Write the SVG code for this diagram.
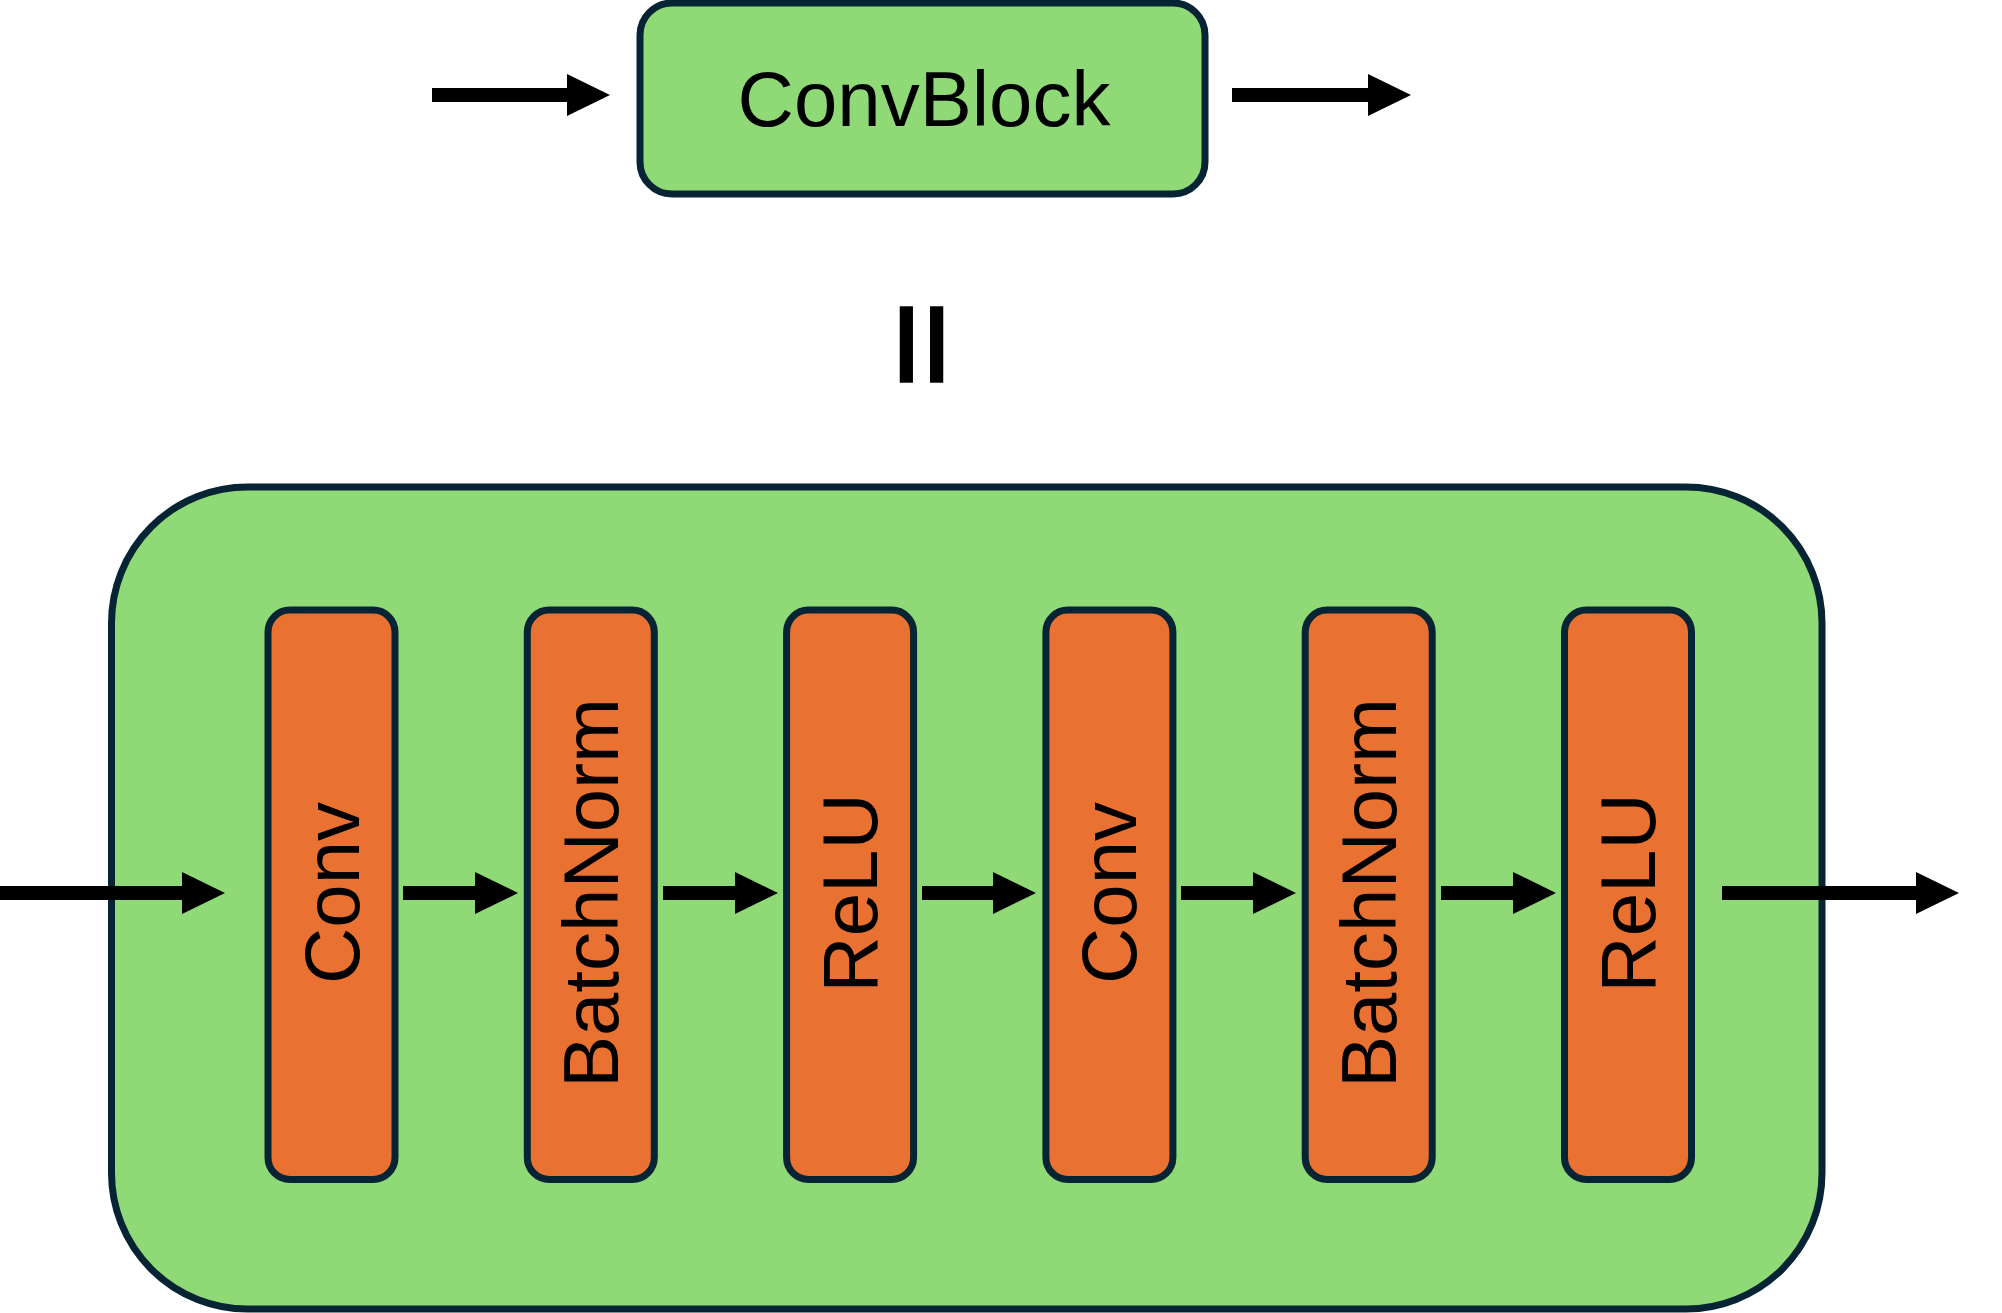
<svg xmlns="http://www.w3.org/2000/svg" width="2002" height="1313" viewBox="0 0 2002 1313">
  <style>
    .green { fill: #8FD977; stroke: #062433; stroke-width: 7; }
    .layer { fill: #E97132; stroke: #062433; stroke-width: 7; }
    .lbl { font-family: "Liberation Sans", Arial, sans-serif; font-size: 78px; fill: #000; text-anchor: middle; }
    .conn { stroke: #000; stroke-width: 14; fill: none; marker-end: url(#head); }
  </style>
  <defs>
    <marker id="head" markerUnits="userSpaceOnUse" viewBox="0 0 43 42" markerWidth="43" markerHeight="42" refX="1" refY="21" orient="auto">
      <path d="M0,0 L43,21 L0,42 Z" fill="#000"/>
    </marker>
  </defs>
  <rect width="2002" height="1313" fill="#fff"/>

  <g id="convblock">
    <rect class="green" x="640" y="3" width="565" height="191" rx="32" ry="32" stroke-width="6.5"/>
    <text class="lbl" x="924" y="126">ConvBlock</text>
  </g>

  <g id="equals">
    <text transform="translate(924,344.5) rotate(90) scale(1.22,1)" x="0" y="42" font-family="Liberation Sans, Arial, sans-serif" font-size="120" text-anchor="middle" fill="#000" stroke="#000" stroke-width="4.5">=</text>
  </g>

  <g id="container">
    <rect class="green" x="111.5" y="487" width="1710.5" height="822" rx="136" ry="136"/>
  </g>

  <g id="conv1">
    <rect class="layer" x="268" y="610" width="127" height="569.5" rx="22" ry="22"/>
    <text class="lbl" transform="translate(358.5,893) rotate(-90)">Conv</text>
  </g>
  <g id="batchnorm1">
    <rect class="layer" x="527.3" y="610" width="127" height="569.5" rx="22" ry="22"/>
    <text class="lbl" transform="translate(618,893) rotate(-90)">BatchNorm</text>
  </g>
  <g id="relu1">
    <rect class="layer" x="786.6" y="610" width="127" height="569.5" rx="22" ry="22"/>
    <text class="lbl" transform="translate(877,893) rotate(-90)">ReLU</text>
  </g>
  <g id="conv2">
    <rect class="layer" x="1045.9" y="610" width="127" height="569.5" rx="22" ry="22"/>
    <text class="lbl" transform="translate(1136,893) rotate(-90)">Conv</text>
  </g>
  <g id="batchnorm2">
    <rect class="layer" x="1305.2" y="610" width="127" height="569.5" rx="22" ry="22"/>
    <text class="lbl" transform="translate(1395.7,893) rotate(-90)">BatchNorm</text>
  </g>
  <g id="relu2">
    <rect class="layer" x="1564.5" y="610" width="127" height="569.5" rx="22" ry="22"/>
    <text class="lbl" transform="translate(1655,893) rotate(-90)">ReLU</text>
  </g>

  <g id="connectors">
    <path class="conn" d="M432,95 L568,95"/>
    <path class="conn" d="M1232,95 L1369,95"/>
    <path class="conn" d="M0,893 L183,893"/>
    <path class="conn" d="M403,893 L476,893"/>
    <path class="conn" d="M663,893 L736,893"/>
    <path class="conn" d="M922,893 L994,893"/>
    <path class="conn" d="M1181,893 L1254,893"/>
    <path class="conn" d="M1441,893 L1514,893"/>
    <path class="conn" d="M1722,893 L1917,893"/>
  </g>
</svg>
